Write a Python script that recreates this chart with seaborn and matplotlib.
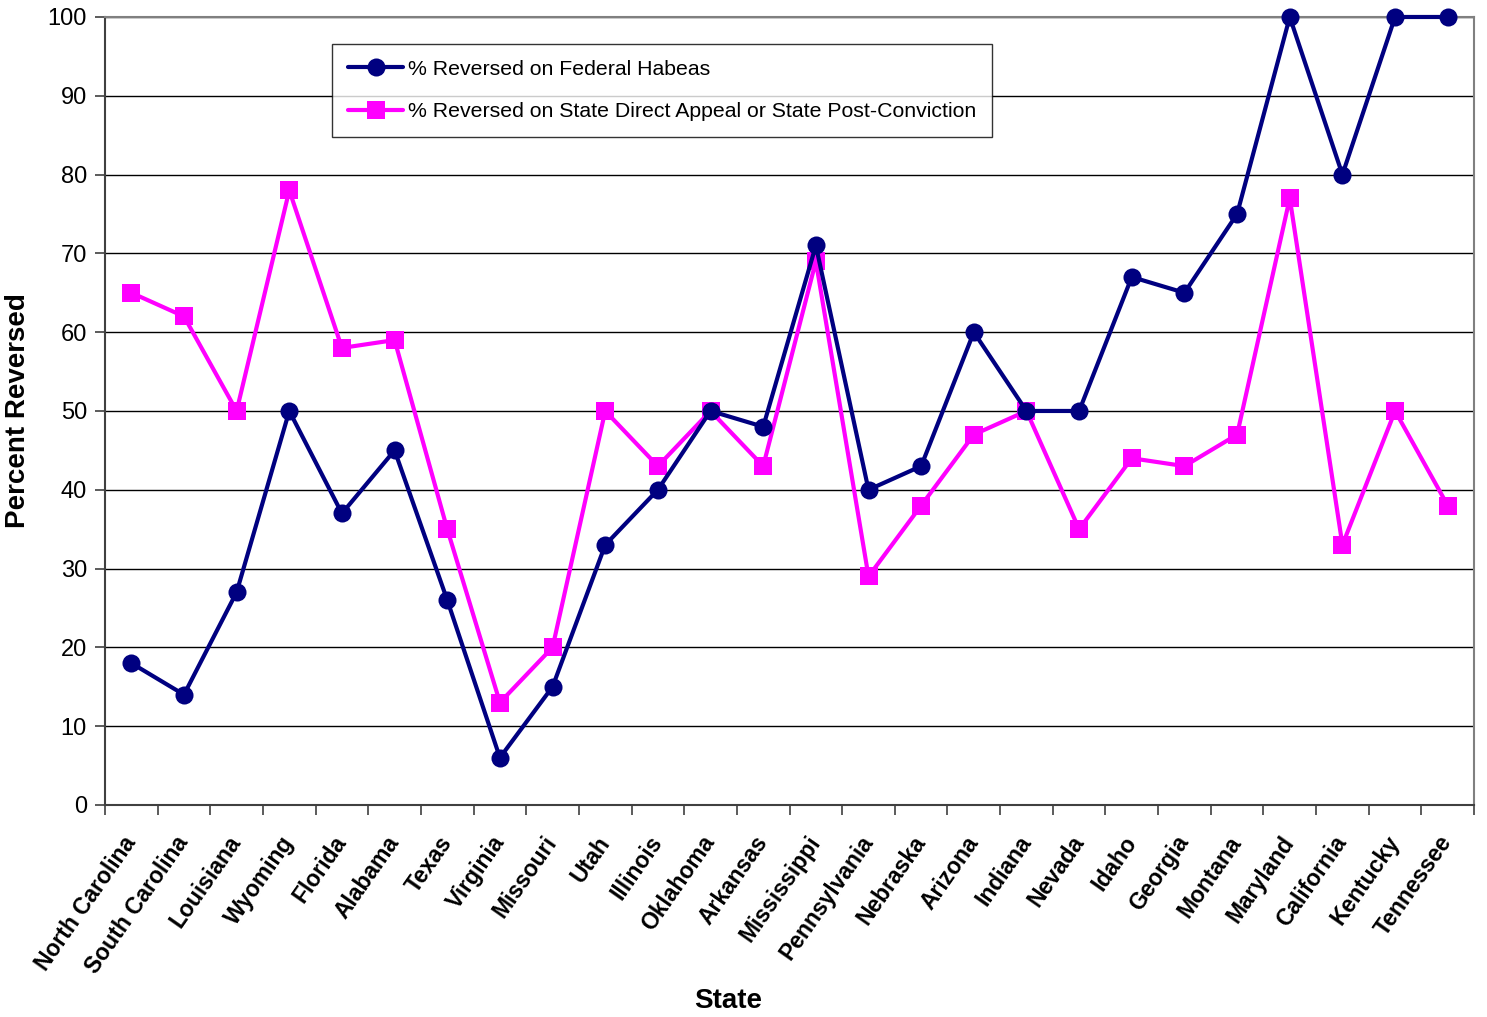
import pandas as pd
import matplotlib.pyplot as plt
import seaborn as sns
import numpy as np

# States in chart order
states = ["North Carolina", "South Carolina", "Louisiana", "Wyoming", "Florida",
          "Alabama", "Texas", "Virginia", "Missouri", "Utah", "Illinois",
          "Oklahoma", "Arkansas", "Mississippi", "Pennsylvania", "Nebraska",
          "Arizona", "Indiana", "Nevada", "Idaho", "Georgia", "Montana",
          "Maryland", "California", "Kentucky", "Tennessee"]

# % reversed on federal habeas
federal = [18, 14, 27, 50, 37, 45, 26, 6, 15, 33, 40, 50, 48, 71, 40, 43,
           60, 50, 50, 67, 65, 75, 100, 80, 100, 100]

# % reversed on state direct appeal / post-conviction
state = [65, 62, 50, 78, 58, 59, 35, 13, 20, 50, 43, 50, 43, 69, 29, 38,
         47, 50, 35, 44, 43, 47, 77, 33, 50, 38]

fed_label = "% Reversed on Federal Habeas"
state_label = "% Reversed on State Direct Appeal or State Post-Conviction"

df = pd.DataFrame({"State": states, "federal": federal, "state": state})
df["pos"] = np.arange(len(states))

sns.set_style("white")
plt.rcParams["font.family"] = ["Liberation Sans", "DejaVu Sans"]
plt.rcParams["text.color"] = "black"
plt.rcParams["xtick.color"] = "black"
plt.rcParams["ytick.color"] = "black"
plt.rcParams["axes.labelcolor"] = "black"

fig = plt.figure(figsize=(14.87, 10.17), dpi=100)
ax = fig.add_axes([0.0706, 0.2085, 0.9207, 0.7748])

# one call per series so each gets its own marker
sns.lineplot(data=df, x="pos", y="federal", color="#000080", marker="o",
             markersize=13, markeredgewidth=0, linewidth=3, label=fed_label,
             clip_on=False, zorder=4, ax=ax)
sns.lineplot(data=df, x="pos", y="state", color="#FF00FF", marker="s",
             markersize=13, markeredgewidth=0, linewidth=3, label=state_label,
             clip_on=False, zorder=3, ax=ax)

# horizontal gridlines
ax.set_ylim(0, 100)
ax.set_yticks(range(0, 101, 10))
for v in range(10, 101, 10):
    ax.axhline(v, color="black", linewidth=1, zorder=0)

ax.set_xlim(-0.5, len(states) - 0.5)
ax.set_xticks(np.arange(len(states)))
ax.set_xticklabels(states, rotation=55, ha="right", va="center",
                   rotation_mode="anchor", fontsize=16.5, fontweight="bold")
ax.set_xticks(np.arange(-0.5, len(states)), minor=True)
ax.tick_params(axis="x", which="major", length=0, pad=24)
ax.tick_params(axis="x", which="minor", length=7, width=1.2, color="#404040",
               direction="out", bottom=True)
ax.tick_params(axis="y", length=7, width=1.2, color="#404040", labelsize=17,
               left=True, direction="out", pad=6)

for side in ["left", "bottom"]:
    ax.spines[side].set_color("#404040")
    ax.spines[side].set_linewidth(1.5)
for side in ["top", "right"]:
    ax.spines[side].set_visible(True)
    ax.spines[side].set_color("#808080")
    ax.spines[side].set_linewidth(1.5)

ax.set_xlabel("State", fontsize=20, fontweight="bold")
ax.xaxis.set_label_coords(0.455, -0.232)
ax.set_ylabel("Percent Reversed", fontsize=20, fontweight="bold")
ax.yaxis.set_label_coords(-0.054, 0.5)

leg = ax.legend(loc="upper left", bbox_to_anchor=(0.166, 0.966), fontsize=15.3,
                frameon=True, fancybox=False, edgecolor="black",
                borderpad=0.75, handlelength=2.6, labelspacing=1.1,
                handletextpad=0.2, borderaxespad=0)
leg.get_frame().set_linewidth(1)

fig.savefig("out.png", dpi=100)
